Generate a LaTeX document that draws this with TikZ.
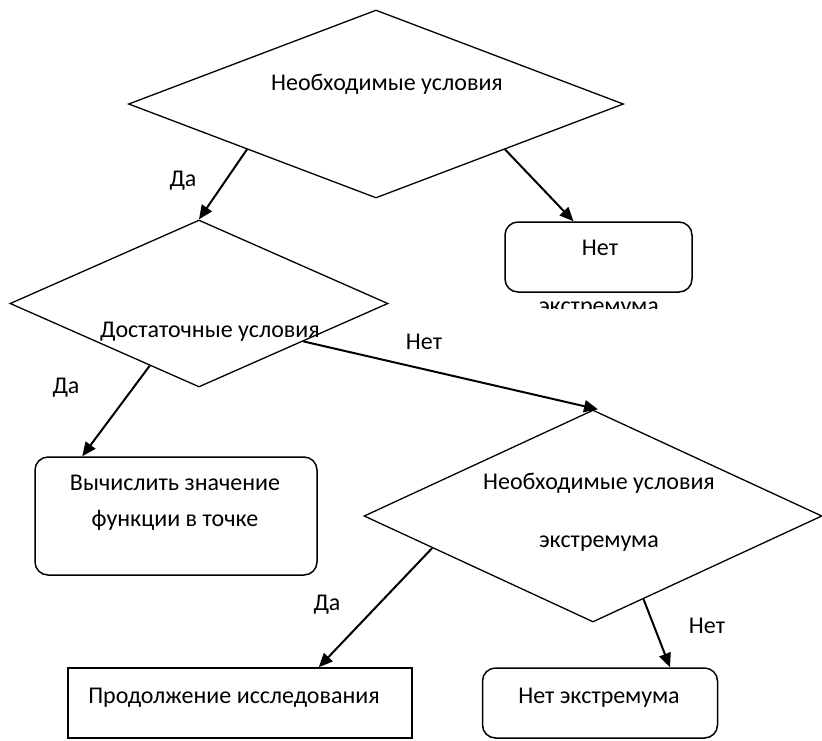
\documentclass[tikz,border=0pt]{standalone}
\usepackage{fontspec}
\setmainfont{Carlito}
\usepackage{tikz}
\usetikzlibrary{shapes.geometric,arrows.meta,calc}

\tikzset{
    cond/.style={diamond, draw, line width=1.3pt, inner sep=0pt},
    rbox/.style={draw, line width=1.5pt, rounded corners=13pt, inner sep=0pt},
    sbox/.style={draw, line width=1.5pt, inner sep=0pt},
    txt/.style={font=\fontsize{24}{28}\selectfont, inner sep=0pt, anchor=base},
    arr/.style={line width=2pt, -{Triangle[length=14pt,width=12pt]}}
}

\begin{document}
\begin{tikzpicture}[x=1pt,y=-1pt]
    \useasboundingbox (0,0) rectangle (822,740);

    % Diamonds (conditions)
    \node[cond, minimum width=495pt, minimum height=188pt] (need) at (376,104) {};
    \node[cond, minimum width=378pt, minimum height=167pt] (suff) at (199,303.5) {};
    \node[cond, minimum width=458pt, minimum height=212pt] (needx) at (593,516) {};

    \node[txt] (needt) at (387,90) {Необходимые условия};
    \node[txt] (sufft) at (210,337) {Достаточные условия};
    \node[txt] (needxa) at (599,489) {Необходимые условия};
    \node[txt] (needxb) at (599,547) {экстремума};

    % Boxes
    \node[rbox, minimum width=187pt, minimum height=70pt] (noext) at (598.5,257) {};
    \node[txt] (noextt) at (600,255) {Нет};
    \begin{scope}
        \clip (480,294) rectangle (720,308);
        \node[txt] (noextc) at (599,313) {экстремума};
    \end{scope}

    \node[rbox, minimum width=282pt, minimum height=118pt] (calc) at (176,516) {};
    \node[txt] (calca) at (175,490) {Вычислить значение};
    \node[txt] (calcb) at (175,526) {функции в точке};

    \node[sbox, minimum width=344pt, minimum height=70pt] (cont) at (240,703) {};
    \node[txt] (contt) at (234,703) {Продолжение исследования};

    \node[rbox, minimum width=235pt, minimum height=70pt] (noext2) at (600,703) {};
    \node[txt] (noext2t) at (599,703) {Нет экстремума};

    % Connectors
    \draw[arr] ($(need.west)!0.48!(need.south)$) -- (suff.north);
    \draw[arr] ($(need.east)!0.48!(need.south)$) -- ($(noext.north)+(-25,0)$);
    \draw[arr] ($(suff.west)!0.74!(suff.south)$) -- ($(calc.north west)+(48,0)$);
    \draw[arr] ($(suff.east)!0.45!(suff.south)$) -- ($(needx.north)+(5,0)$);
    \draw[arr] ($(needx.west)!0.30!(needx.south)$) -- ($(cont.north east)+(-94,0)$);
    \draw[arr] ($(needx.east)!0.78!(needx.south)$) -- ($(noext2.north)+(70,0)$);

    % Labels
    \node[txt] (yes1) at (183,186) {Да};
    \node[txt] (yes2) at (66,393) {Да};
    \node[txt] (no2) at (424,349) {Нет};
    \node[txt] (yes3) at (327,610) {Да};
    \node[txt] (no3) at (707,633) {Нет};
\end{tikzpicture}
\end{document}
